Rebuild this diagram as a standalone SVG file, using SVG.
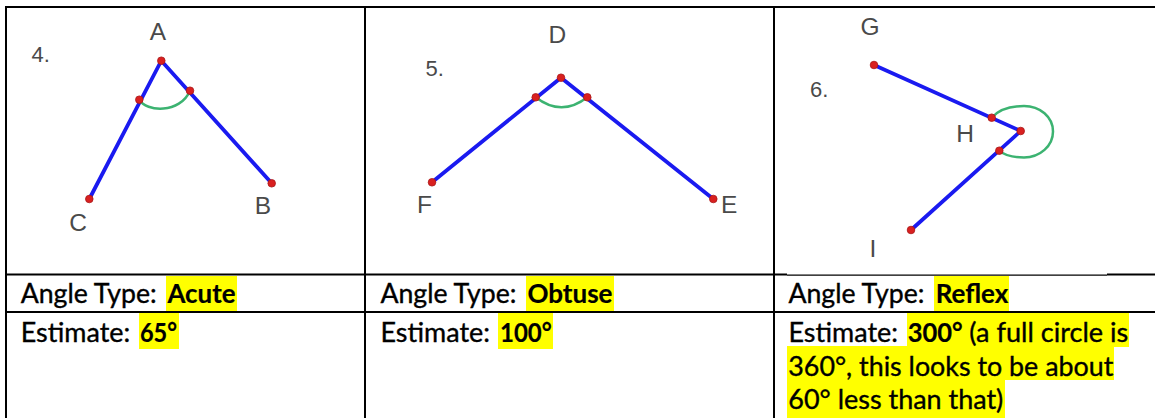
<svg xmlns="http://www.w3.org/2000/svg" width="1155" height="418" viewBox="0 0 1155 418">
<style>
.grid{stroke:#000;stroke-width:2;fill:none}
.thin{stroke:#000;stroke-width:1.2;fill:none}
.arm{stroke:#1a1af0;stroke-width:3.8;stroke-linecap:round;fill:none}
.arc{stroke:#3cb371;stroke-width:2.5;fill:none}
.pt{fill:#d92020;stroke:#a81818;stroke-width:0.8}
.lbl{font-family:"Liberation Sans",Arial,sans-serif;font-size:24.5px;fill:#4a4a4a}
.num{font-family:"Liberation Sans",Arial,sans-serif;font-size:22px;fill:#4a4a4a}
.cell{font-family:Lato,"Open Sans",sans-serif;font-size:26px;fill:#000;stroke:#000;stroke-width:0.35}
.b{font-weight:bold;stroke-width:0.2}
.hl{fill:#ffff00}
</style>
<rect width="1155" height="418" fill="#fff"/>
<g id="highlights">
<rect class="hl" x="166" y="276" width="71" height="36"/>
<rect class="hl" x="139" y="313" width="40" height="36"/>
<rect class="hl" x="526" y="276" width="88" height="36"/>
<rect class="hl" x="498" y="313" width="55" height="36"/>
<rect class="hl" x="934" y="276" width="75" height="36"/>
<rect class="hl" x="907" y="313" width="222" height="34"/>
<rect class="hl" x="787" y="346" width="327" height="34"/>
<rect class="hl" x="787" y="380" width="218" height="38"/>
</g>
<g id="table">
<line class="grid" x1="6" y1="7" x2="1155" y2="7"/>
<line class="grid" x1="6" y1="6" x2="6" y2="418"/>
<line class="grid" x1="365" y1="6" x2="365" y2="418"/>
<line class="grid" x1="774" y1="6" x2="774" y2="418"/>
<line class="grid" x1="6" y1="274.5" x2="787" y2="274.5"/>
<line class="thin" x1="787" y1="275.2" x2="1107" y2="275.2"/>
<line class="grid" x1="1107" y1="274.5" x2="1155" y2="274.5"/>
<line class="grid" x1="6" y1="312" x2="1155" y2="312"/>
</g>
<g id="cell-4">
<text class="num" x="31.5" y="61.5">4.</text>
<text class="lbl" x="158" y="39.5" text-anchor="middle">A</text>
<text class="lbl" x="78" y="230.5" text-anchor="middle">C</text>
<text class="lbl" x="263" y="214" text-anchor="middle">B</text>
<path class="arm" d="M89.3 199 L161.3 60.7 L271.7 183.3"/>
<path class="arc" d="M139.3 99.7 C146 112 180 114 190 90.7"/>
<circle class="pt" cx="161.3" cy="60.7" r="3.8"/>
<circle class="pt" cx="139.3" cy="99.7" r="3.8"/>
<circle class="pt" cx="190" cy="90.7" r="3.8"/>
<circle class="pt" cx="89.3" cy="199" r="3.8"/>
<circle class="pt" cx="271.7" cy="183.3" r="3.8"/>
</g>
<g id="cell-5">
<text class="num" x="425.5" y="76">5.</text>
<text class="lbl" x="557.3" y="43.3" text-anchor="middle">D</text>
<text class="lbl" x="424.5" y="213.3" text-anchor="middle">F</text>
<text class="lbl" x="721" y="213.3">E</text>
<path class="arm" d="M432 182.3 L561 77.7 L713.3 199"/>
<path class="arc" d="M535.7 97.3 Q561.5 117.3 587.3 97.3"/>
<circle class="pt" cx="561" cy="77.7" r="3.8"/>
<circle class="pt" cx="535.7" cy="97.3" r="3.8"/>
<circle class="pt" cx="587.3" cy="97.3" r="3.8"/>
<circle class="pt" cx="432" cy="182.3" r="3.8"/>
<circle class="pt" cx="713.3" cy="199" r="3.8"/>
</g>
<g id="cell-6">
<text class="num" x="810" y="96.5">6.</text>
<text class="lbl" x="870" y="35" text-anchor="middle">G</text>
<text class="lbl" x="965" y="141.7" text-anchor="middle">H</text>
<text class="lbl" x="873" y="257.3" text-anchor="middle">I</text>
<path class="arm" d="M874 65 L1020.7 131 L911 230"/>
<path class="arc" d="M991.7 117.7 C1000 108 1012 106 1024 106 C1040 106 1053 117 1053 131.5 C1053 146 1040 157.5 1024 157.5 C1013 157.5 1004 155 999.3 150.7"/>
<circle class="pt" cx="874" cy="65" r="3.8"/>
<circle class="pt" cx="991.7" cy="117.7" r="3.8"/>
<circle class="pt" cx="1020.7" cy="131" r="3.8"/>
<circle class="pt" cx="999.3" cy="150.7" r="3.8"/>
<circle class="pt" cx="911" cy="230" r="3.8"/>
</g>
<g id="row-type">
<text class="cell" x="20.7" y="303" textLength="136" lengthAdjust="spacingAndGlyphs">Angle Type:</text>
<text class="cell b" x="167.5" y="303" textLength="68" lengthAdjust="spacingAndGlyphs">Acute</text>
<text class="cell" x="380.5" y="303" textLength="136" lengthAdjust="spacingAndGlyphs">Angle Type:</text>
<text class="cell b" x="527.5" y="303" textLength="85" lengthAdjust="spacingAndGlyphs">Obtuse</text>
<text class="cell" x="788.5" y="303" textLength="136" lengthAdjust="spacingAndGlyphs">Angle Type:</text>
<text class="cell b" x="935.7" y="303" textLength="72.5" lengthAdjust="spacingAndGlyphs">Reflex</text>
</g>
<g id="row-estimate">
<text class="cell" x="20.7" y="342" textLength="109.5" lengthAdjust="spacingAndGlyphs">Estimate:</text>
<text class="cell b" x="140" y="342" textLength="37" lengthAdjust="spacingAndGlyphs">65°</text>
<text class="cell" x="380.5" y="342" textLength="109.5" lengthAdjust="spacingAndGlyphs">Estimate:</text>
<text class="cell b" x="500" y="342" textLength="51.7" lengthAdjust="spacingAndGlyphs">100°</text>
<text class="cell" x="788.5" y="342" textLength="109.5" lengthAdjust="spacingAndGlyphs">Estimate:</text>
<text class="cell b" x="907.7" y="342" textLength="55" lengthAdjust="spacingAndGlyphs">300°</text>
<text class="cell" x="969.3" y="342" textLength="159" lengthAdjust="spacingAndGlyphs">(a full circle is</text>
<text class="cell" x="788.3" y="376" textLength="325" lengthAdjust="spacingAndGlyphs">360°, this looks to be about</text>
<text class="cell" x="788.3" y="409" textLength="215" lengthAdjust="spacingAndGlyphs">60° less than that)</text>
</g>
</svg>
